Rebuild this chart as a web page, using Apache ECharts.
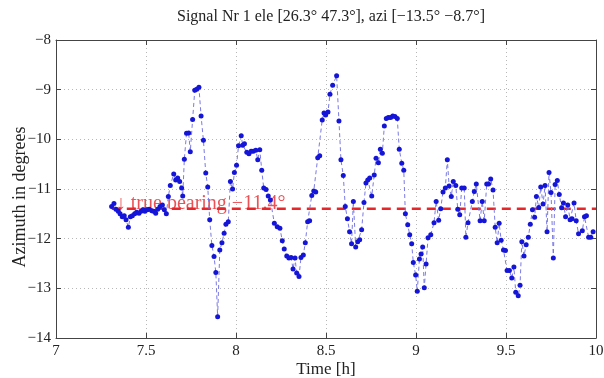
<!DOCTYPE html>
<html>
<head>
<meta charset="utf-8">
<script src="https://cdn.jsdelivr.net/npm/echarts@6/dist/echarts.min.js"></script>
<style>
html,body{margin:0;padding:0;background:#fff;}
#chart{width:604px;height:378px;}
</style>
</head>
<body>
<div id="chart"></div>
<script>
// time of each estimate [h]
var timeH=[7.309,7.322,7.333,7.346,7.356,7.368,7.379,7.389,7.402,7.413,7.424,7.437,7.448,7.461,7.472,7.483,7.494,7.507,7.518,7.532,
7.543,7.554,7.565,7.578,7.591,7.602,7.613,7.624,7.635,7.654,7.665,7.676,7.687,7.698,7.704,7.713,7.725,7.737,7.746,7.759,
7.771,7.782,7.794,7.806,7.819,7.832,7.843,7.854,7.866,7.878,7.888,7.898,7.910,7.922,7.934,7.944,7.957,7.969,7.981,7.991,
8.003,8.014,8.029,8.037,8.047,8.060,8.072,8.084,8.096,8.110,8.121,8.132,8.143,8.154,8.167,8.179,8.191,8.213,8.229,8.244,
8.257,8.268,8.282,8.294,8.306,8.317,8.328,8.337,8.350,8.361,8.374,8.385,8.398,8.409,8.421,8.432,8.443,8.454,8.465,8.479,
8.489,8.498,8.511,8.522,8.537,8.559,8.572,8.583,8.596,8.607,8.619,8.631,8.642,8.652,8.665,8.676,8.687,8.698,8.711,8.722,
8.732,8.743,8.754,8.768,8.778,8.791,8.802,8.813,8.824,8.835,8.846,8.859,8.871,8.883,8.896,8.907,8.921,8.932,8.941,8.954,
8.965,8.976,8.985,8.998,9.007,9.019,9.028,9.037,9.046,9.056,9.067,9.082,9.100,9.112,9.126,9.137,9.150,9.163,9.174,9.184,
9.196,9.207,9.221,9.232,9.243,9.254,9.268,9.277,9.289,9.313,9.324,9.335,9.356,9.368,9.379,9.393,9.403,9.415,9.428,9.440,
9.451,9.462,9.473,9.486,9.497,9.506,9.519,9.532,9.544,9.554,9.568,9.578,9.588,9.600,9.612,9.624,9.635,9.647,9.659,9.669,
9.682,9.693,9.706,9.717,9.728,9.739,9.750,9.763,9.773,9.785,9.796,9.809,9.819,9.831,9.843,9.856,9.867,9.878,9.890,9.903,
9.924,9.936,9.947,9.959,9.971,9.984];

// azimuth estimate [deg]
var azimuth=[-11.35,-11.29,-11.41,-11.45,-11.50,-11.56,-11.54,-11.62,-11.77,-11.56,-11.54,-11.50,-11.47,-11.49,-11.45,-11.42,-11.45,-11.42,-11.41,-11.44,
-11.45,-11.49,-11.41,-11.35,-11.32,-11.42,-11.50,-11.15,-10.93,-10.70,-10.82,-10.78,-10.85,-10.98,-11.14,-10.40,-9.88,-9.87,-10.25,-9.60,
-9.01,-8.99,-8.95,-9.53,-10.02,-10.68,-10.96,-11.62,-12.14,-12.36,-12.68,-13.57,-12.23,-12.08,-11.89,-11.71,-11.66,-10.85,-11.00,-10.67,
-10.52,-10.13,-9.93,-10.12,-10.09,-10.26,-10.29,-10.24,-10.24,-10.22,-10.41,-10.21,-10.62,-10.98,-11.01,-11.14,-11.22,-11.69,-11.76,-11.79,
-12.04,-12.21,-12.35,-12.39,-12.38,-12.61,-12.39,-12.69,-12.76,-12.38,-12.33,-12.08,-11.66,-11.64,-11.13,-11.04,-11.06,-10.37,-10.33,-9.61,
-9.47,-9.51,-9.45,-9.09,-8.91,-8.72,-9.63,-10.41,-10.73,-11.35,-11.60,-11.86,-12.10,-11.25,-12.17,-12.06,-12.02,-11.82,-11.27,-10.88,
-10.82,-10.78,-11.14,-10.72,-10.38,-10.47,-10.20,-10.28,-9.73,-9.58,-9.56,-9.56,-9.53,-9.54,-9.58,-10.20,-10.48,-10.62,-11.50,-11.72,
-11.92,-12.10,-12.48,-12.73,-13.06,-12.41,-12.31,-12.17,-12.99,-12.51,-11.98,-11.92,-11.68,-11.25,-11.63,-11.40,-11.06,-10.98,-10.41,-10.94,
-11.15,-10.85,-10.93,-11.41,-11.52,-10.98,-10.98,-11.97,-11.68,-11.25,-11.05,-10.90,-11.64,-11.25,-11.64,-10.90,-10.90,-10.80,-11.02,-11.77,
-12.08,-11.69,-12.03,-12.23,-12.24,-12.64,-12.64,-12.79,-12.57,-13.08,-13.15,-12.94,-12.06,-12.35,-12.12,-11.97,-11.71,-11.42,-11.57,-11.15,
-11.37,-10.96,-11.30,-10.93,-11.86,-10.67,-11.07,-12.39,-10.91,-10.83,-11.11,-11.38,-11.28,-11.56,-11.32,-11.62,-11.60,-11.28,-11.64,-11.90,
-11.84,-11.56,-11.54,-11.97,-11.97,-11.86];

var bearing=-11.4;
var bearingFrom=7.31;
var xTicks=[7,7.5,8,8.5,9,9.5,10];
var yTicks=[-14,-13,-12,-11,-10,-9,-8];

var titleText='Signal Nr 1 ele [26.3\u00b0 47.3\u00b0], azi [\u221213.5\u00b0 \u22128.7\u00b0]';
var bearingText='\u2193 true bearing \u221211.4\u00b0';

var serif="'Liberation Serif','Times New Roman',serif";

function minus(v){
    return String(v).replace('-','\u2212');
}

var points=[];
for(var i=0;i<timeH.length;i++){
    points.push([timeH[i],azimuth[i]]);
}

var myChart=echarts.init(document.getElementById('chart'));

var tickStyle={inside:true,length:5,lineStyle:{color:'#444',width:1}};
var axisLine={show:true,lineStyle:{color:'#444',width:1}};
var gridLine={show:true,lineStyle:{color:'#b8b8b8',type:[1,3],width:1}};

var option={
    animation:false,
    backgroundColor:'#fff',
    title:{
        text:titleText,
        left:326,
        top:4,
        textAlign:'center',
        textStyle:{fontFamily:serif,fontSize:16,fontWeight:'normal',color:'#222'}
    },
    grid:{left:56,right:8,top:40,bottom:40,outerBoundsMode:'none'},
    xAxis:[{
        type:'value',
        min:7,max:10,interval:0.5,
        name:'Time [h]',
        nameLocation:'middle',
        nameGap:23,
        nameMoveOverlap:false,
        nameTextStyle:{fontFamily:serif,fontSize:17,color:'#222',verticalAlign:'top'},
        axisLine:axisLine,
        axisTick:tickStyle,
        axisLabel:{fontFamily:serif,fontSize:15,color:'#222',margin:6},
        splitLine:gridLine
    },{
        type:'value',position:'top',
        min:7,max:10,interval:0.5,
        axisLine:axisLine,axisTick:tickStyle,
        axisLabel:{show:false},splitLine:{show:false}
    }],
    yAxis:[{
        type:'value',
        min:-14,max:-8,interval:1,
        name:'Azimuth in degrees',
        nameLocation:'middle',
        nameGap:27,
        nameMoveOverlap:false,
        nameTextStyle:{fontFamily:serif,fontSize:18,color:'#222',padding:[0,16,0,0]},
        axisLine:axisLine,
        axisTick:tickStyle,
        axisLabel:{fontFamily:serif,fontSize:15,color:'#222',margin:5,formatter:minus},
        splitLine:gridLine
    },{
        type:'value',position:'right',
        min:-14,max:-8,interval:1,
        axisLine:axisLine,axisTick:tickStyle,
        axisLabel:{show:false},splitLine:{show:false}
    }],
    series:[{
        name:'bearing',
        type:'line',
        data:[[bearingFrom,bearing],[10,bearing]],
        symbol:'none',
        lineStyle:{color:'#e8262a',width:2.5,type:[9,6]},
        z:3
    },{
        name:'label',
        type:'scatter',
        data:[[bearingFrom,bearing]],
        symbolSize:0,
        itemStyle:{color:'rgba(0,0,0,0)'},
        label:{
            show:true,
            position:'right',
            distance:0,
            offset:[4,-5],
            formatter:bearingText,
            fontFamily:serif,
            fontSize:20,
            color:'#e8262a'
        },
        z:3
    },{
        name:'azimuth',
        type:'line',
        data:points,
        symbol:'circle',
        symbolSize:5,
        itemStyle:{color:'#1515d8'},
        lineStyle:{color:'#7a7ae6',width:1,type:[4,3]},
        z:4
    }]
};

myChart.setOption(option);
</script>
</body>
</html>
